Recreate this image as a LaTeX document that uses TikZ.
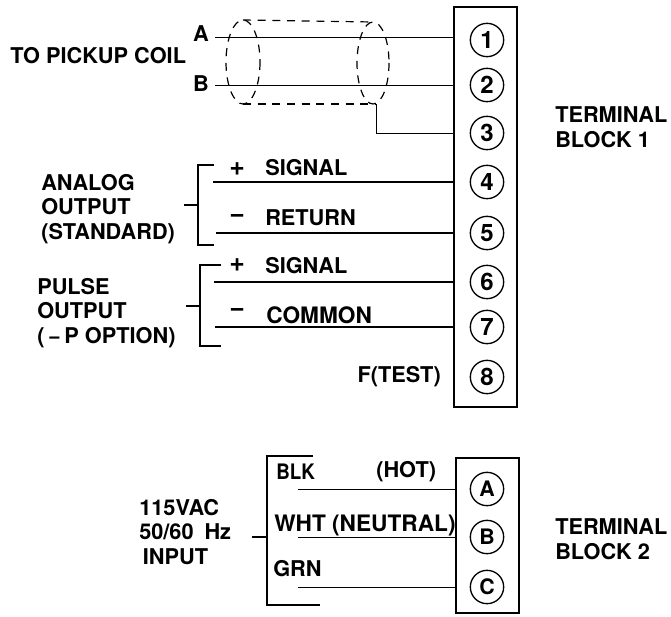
\documentclass[tikz,border=0pt]{standalone}
\usepackage{fontspec}
\setmainfont{TeX Gyre Heros}
\newfontfamily\narrowfont[FakeStretch=0.88]{TeX Gyre Heros}
\usetikzlibrary{positioning,calc}
\tikzset{
    lbl/.style={font=\fontsize{16.3}{18.5}\selectfont\bfseries, inner sep=0pt, align=left},
    lblwide/.style={font=\fontsize{17}{19}\selectfont\bfseries, inner sep=0pt, align=left},
    lblnarrow/.style={font=\narrowfont\fontsize{16}{17}\selectfont\bfseries, inner sep=0pt, align=left},
    sign/.style={font=\fontsize{20}{20}\selectfont\bfseries, inner sep=0pt},
    pin/.style={draw, circle, line width=1pt, minimum size=25pt, inner sep=0pt, font=\fontsize{18}{18}\selectfont\bfseries},
    block/.style={draw, line width=1.1pt, minimum width=47pt, inner sep=0pt},
    wire/.style={line width=0.7pt},
    heavy/.style={line width=1.6pt},
    brace/.style={line width=0.9pt},
    shield/.style={line width=0.9pt, dash pattern=on 6pt off 5pt}
}
\begin{document}
\begin{tikzpicture}[x=0.75pt,y=-0.75pt]
    \useasboundingbox (0,0) rectangle (671,617);
    % terminal blocks
    \node[block, minimum height=300pt] (tbone) at (485.5,207) {};
    \node[block, minimum height=116pt] (tbtwo) at (487.5,535.5) {};
    \foreach \n/\y in {1/40, 2/85, 3/133, 4/182, 5/233, 6/282, 7/327, 8/377}
        \node[pin] (t\n) at (487,\y) {\n};
    \foreach \n/\y in {A/489, B/537, C/587}
        \node[pin, font=\fontsize{16}{16}\selectfont\bfseries] (p\n) at (487,\y) {\n};
    \node[lbl, anchor=west] (tbonelbl) at (555,127) {TERMINAL\\BLOCK 1};
    \node[lbl, anchor=west] (tbtwolbl) at (555,539) {TERMINAL\\BLOCK 2};
    % pickup coil
    \node[lbl, anchor=west] (coil) at (10,56) {TO PICKUP COIL};
    \node[lbl, anchor=east] (wa) at (209,34) {A};
    \node[lbl, anchor=east] (wb) at (209,84) {B};
    \coordinate (wastart) at (215,37);
    \coordinate (wbstart) at (215,85.5);
    \draw[wire] (wastart) -- (wastart -| tbone.west);
    \draw[wire] (wbstart) -- (wbstart -| tbone.west);
    \draw[shield] (243,62) ellipse (17 and 42);
    \draw[shield] (373,63) ellipse (16 and 41);
    \draw[shield] (243,20) -- (373,22);
    \draw[shield] (243,104) -- (376,104);
    \coordinate (shend) at (376,104);
    \draw[wire] (shend) |- (t3 -| tbone.west);
    % analog output
    \node[lbl, anchor=west] (analog) at (41,209) {ANALOG\\OUTPUT\\(STANDARD)};
    \draw[brace] (214,165) -- (198,165) -- (198,245) -- (214,245);
    \draw[brace] (184,205) -- (198,205);
    \node[sign, anchor=west] (plusa) at (229,169) {+};
    \node[sign, anchor=west] (minusa) at (229,218) {\textminus};
    \node[lbl, anchor=west] (siga) at (265,168) {SIGNAL};
    \node[lbl, anchor=west] (ret) at (265,218) {RETURN};
    \foreach \n/\x in {4/213, 5/216}
        \draw[heavy] (\x,0 |- t\n) -- (t\n -| tbone.west);
    % pulse output
    \node[lbl, anchor=west] (pulse) at (37,313) {PULSE\\OUTPUT\\(\,\textminus\,P OPTION)};
    \draw[brace] (221,265) -- (200,265) -- (200,346) -- (221,346);
    \draw[brace] (186,306) -- (200,306);
    \node[sign, anchor=west] (plusb) at (229,265) {+};
    \node[sign, anchor=west] (minusb) at (229,312) {\textminus};
    \node[lbl, anchor=west] (sigb) at (265,266) {SIGNAL};
    \node[lblwide, anchor=west] (com) at (266,315) {COMMON};
    \foreach \n/\x in {6/214, 7/215}
        \draw[heavy] (\x,0 |- t\n) -- (t\n -| tbone.west);
    \node[lbl, anchor=east] (ftest) at (441,377) {F(TEST)};
    % power input
    \node[lbl, anchor=west] (vac) at (139,532) {115VAC\\50/60\,\,\,Hz\\\,INPUT};
    \draw[brace] (313,456) -- (267,456) -- (267,605) -- (320,605);
    \draw[brace] (252,537) -- (267,537);
    \node[lblnarrow, anchor=west] (blk) at (276,472) {BLK};
    \node[lbl, anchor=west] (hot) at (376,472) {(HOT)};
    \node[lblwide, anchor=west] (wht) at (274,525) {WHT (NEUTRAL)};
    \node[lbl, anchor=west] (grn) at (273,569) {GRN};
    \foreach \n in {A, B, C}
        \draw[wire] (298,0 |- p\n) -- (p\n -| tbtwo.west);
\end{tikzpicture}
\end{document}
